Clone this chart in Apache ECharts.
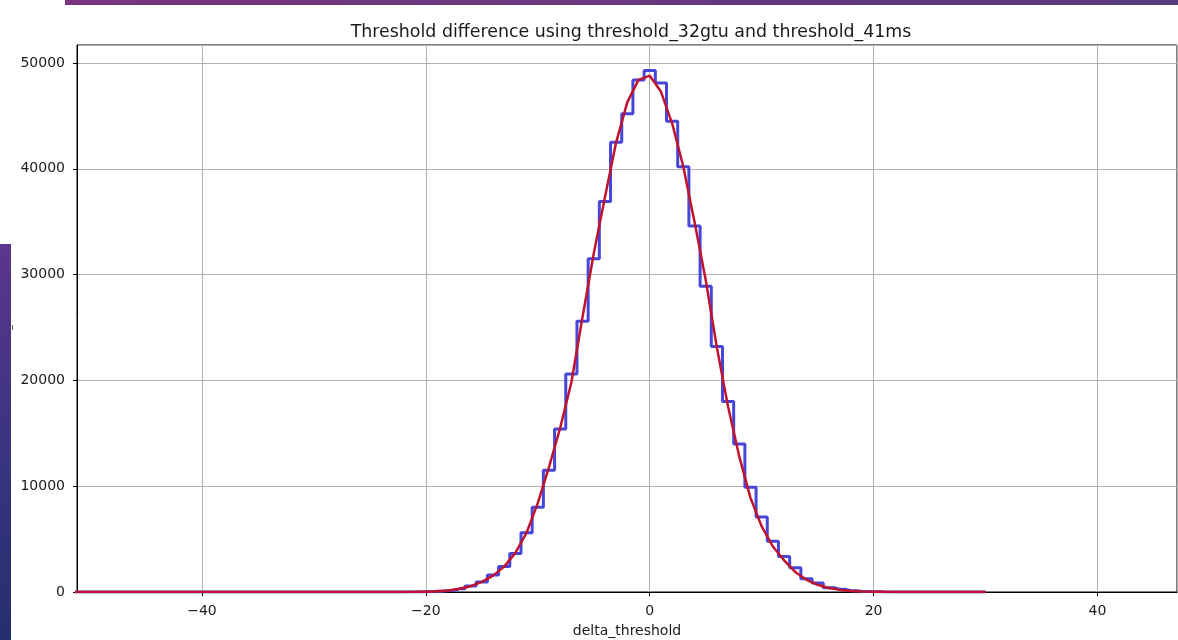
<!DOCTYPE html>
<html>
<head>
<meta charset="utf-8">
<script src="https://cdn.jsdelivr.net/npm/echarts@6/dist/echarts.min.js"></script>
<style>
  html, body { margin: 0; padding: 0; background: #fff; }
  #chart { width: 1178px; height: 640px; }
</style>
</head>
<body>
<!-- chart container -->
<div id="chart"></div>
<script>
// first bin centre, bins are 1 wide
const binStart = -52
// histogram counts, bins -52 ... 30
const histCounts = [
  0, 0, 0, 0, 0, 0, 0, 0, 0, 0,
  0, 0, 0, 0, 0, 0, 0, 0, 0, 0,
  0, 0, 0, 0, 0, 0, 0, 0, 0, 0,
  3, 8, 25, 60, 140, 300, 560, 950, 1600, 2400,
  3650, 5600, 8000, 11500, 15400, 20600, 25600, 31500, 36900, 42500,
  45200, 48400, 49300, 48100, 44500, 40200, 34600, 28900, 23200, 18000,
  14000, 9900, 7100, 4800, 3350, 2300, 1250, 850, 400, 250,
  120, 55, 25, 10, 4,
  0, 0, 0, 0, 0, 0, 0, 0
]
// fitted curve, same bin centres
const fitValues = [
  0, 0, 0, 0, 0, 0, 0, 0, 0, 0,
  0, 0, 0, 0, 0, 0, 0, 0, 0, 0,
  0, 0, 0, 0, 0, 0, 0, 0, 0, 0,
  5, 12, 30, 70, 150, 300, 550, 950, 1550, 2400,
  3700, 5600, 8400, 11800, 15500, 19800, 26000, 32000, 37300, 42500,
  46300, 48400, 48800, 47300, 44300, 40200, 35000, 29500, 23100, 17500,
  12800, 8900, 6200, 4300, 3000, 1900, 1150, 680, 380, 200,
  100, 50, 25, 12, 5,
  0, 0, 0, 0, 0, 0, 0, 0
]
const xTicks = [-40, -20, 0, 20, 40]
const yTicks = [0, 10000, 20000, 30000, 40000, 50000]

const font = 'DejaVu Sans'
const chart = echarts.init(document.getElementById('chart'))

const option = {
  animation: false,
  grid: {
    left: 77,
    right: 1,
    top: 45,
    bottom: 48,
    outerBoundsMode: 'none',
    show: true,
    borderColor: '#000',
    borderWidth: 1
  },
  graphic: [
    // screenshot leftovers: purple banner on top, strip on the left
    {
      type: 'rect',
      shape: { x: 65, y: 0, width: 1113, height: 5 },
      style: {
        fill: new echarts.graphic.LinearGradient(0, 0, 1, 0, [
          { offset: 0, color: '#7a3582' },
          { offset: 1, color: '#573a7c' }
        ])
      }
    },
    {
      type: 'rect',
      shape: { x: 0, y: 244, width: 11, height: 396 },
      style: {
        fill: new echarts.graphic.LinearGradient(0, 0, 0, 1, [
          { offset: 0, color: '#5c368a' },
          { offset: 0.5, color: '#3b3482' },
          { offset: 1, color: '#242f6e' }
        ])
      }
    },
    {
      type: 'rect',
      shape: { x: 12, y: 325, width: 1, height: 5 },
      style: { fill: '#666' }
    },
    {
      type: 'text',
      x: 631,
      y: 32,
      style: {
        text: 'Threshold difference using threshold_32gtu and threshold_41ms',
        font: '17.4px "DejaVu Sans"',
        fill: '#1a1a1a',
        textAlign: 'center',
        textVerticalAlign: 'middle'
      }
    }
  ],
  xAxis: {
    type: 'value',
    min: -51.16,
    max: 47.1,
    splitNumber: 5,
    name: 'delta_threshold',
    nameLocation: 'middle',
    nameGap: 32,
    nameTextStyle: { color: '#1a1a1a', fontSize: 14, fontFamily: font },
    axisLine: { onZero: false, lineStyle: { color: '#000', width: 1 } },
    axisTick: { show: true, length: 4, lineStyle: { color: '#000' } },
    axisLabel: {
      color: '#1a1a1a',
      fontSize: 14,
      fontFamily: font,
      margin: 12,
      showMinLabel: false,
      showMaxLabel: false,
      formatter: v => xTicks.includes(v) ? String(v).replace('-', '\u2212') : ''
    },
    splitLine: { show: true, lineStyle: { color: '#b0b0b0', width: 1 } }
  },
  yAxis: {
    type: 'value',
    min: 0,
    max: 51700,
    interval: 10000,
    axisLine: { show: true, onZero: false, lineStyle: { color: '#000', width: 1 } },
    axisTick: { show: true, length: 4, lineStyle: { color: '#000' } },
    axisLabel: {
      color: '#1a1a1a',
      fontSize: 14,
      fontFamily: font,
      margin: 12,
      showMaxLabel: false,
      formatter: v => yTicks.includes(v) ? String(v) : ''
    },
    splitLine: { show: true, lineStyle: { color: '#b0b0b0', width: 1 } }
  },
  series: [
    {
      name: 'histogram',
      type: 'line',
      step: 'middle',
      symbol: 'none',
      clip: true,
      lineStyle: { color: '#4646da', width: 3 },
      data: histCounts.map((v, i) => [binStart + i, v])
    },
    {
      name: 'fit',
      type: 'line',
      symbol: 'none',
      clip: true,
      z: 3,
      lineStyle: { color: '#c2132c', width: 2.5 },
      data: fitValues.map((v, i) => [binStart + i, v])
    }
  ]
}

chart.setOption(option)
</script>
</body>
</html>
